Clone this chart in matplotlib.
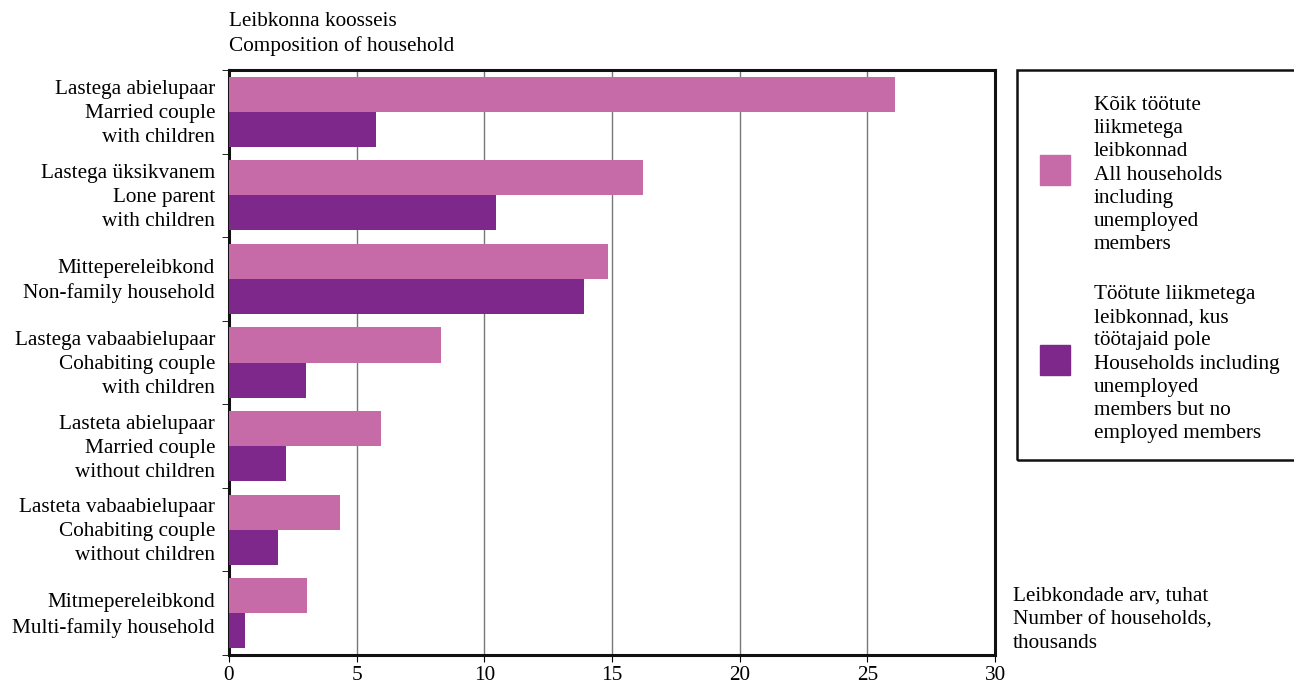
import matplotlib.pyplot as plt
import matplotlib.transforms as mtrans
from matplotlib.patches import Rectangle
import numpy as np

plt.rcParams['font.family'] = ['Liberation Serif', 'DejaVu Serif']

categories = [
    "Lastega abielupaar\nMarried couple\nwith children",
    "Lastega üksikvanem\nLone parent\nwith children",
    "Mittepereleibkond\nNon-family household",
    "Lastega vabaabielupaar\nCohabiting couple\nwith children",
    "Lasteta abielupaar\nMarried couple\nwithout children",
    "Lasteta vabaabielupaar\nCohabiting couple\nwithout children",
    "Mitmepereleibkond\nMulti-family household",
]
all_households = [26.1, 16.2, 14.85, 8.3, 5.95, 4.35, 3.05]
no_employed = [5.76, 10.46, 13.9, 3.0, 2.23, 1.92, 0.63]

label_all = ("Kõik töötute\nliikmetega\nleibkonnad\nAll households\n"
             "including\nunemployed\nmembers")
label_none = ("Töötute liikmetega\nleibkonnad, kus\ntöötajaid pole\n"
              "Households including\nunemployed\nmembers but no\nemployed members")

pink = "#C66AA8"
purple = "#7F288C"
fs = 15.3
ls = 1.36

fig = plt.figure(figsize=(12.94, 6.84), dpi=100)
ax = fig.add_axes([229/1294, 1-655/684, (995-229)/1294, (655-70)/684])

y = np.arange(len(categories))
h = 0.42
ax.barh(y - h/2, all_households, height=h, color=pink, zorder=3)
ax.barh(y + h/2, no_employed, height=h, color=purple, zorder=3)

ax.set_xlim(0, 30)
ax.set_ylim(len(categories) - 0.5, -0.5)
ax.set_xticks(range(0, 31, 5))
ax.tick_params(axis='x', labelsize=fs, direction='out', length=5, pad=3)
ax.set_yticks(y)
ax.set_yticklabels(categories, fontsize=fs, linespacing=ls)
ax.tick_params(axis='y', length=0, pad=10)
ax.set_yticks(np.arange(-0.5, len(categories)), minor=True)
ax.tick_params(axis='y', which='minor', length=5, direction='out')
shift = mtrans.ScaledTranslation(0, 3/100, fig.dpi_scale_trans)
for lab in ax.get_yticklabels():
    lab.set_transform(lab.get_transform() + shift)
ax.grid(axis='x', color='#777777', linewidth=1, zorder=1)
for s in ax.spines.values():
    s.set_linewidth(2.2)
    s.set_color('#111111')

fig.text(229/1294, 1-12/684, "Leibkonna koosseis\nComposition of household",
         fontsize=fs, va='top', ha='left', linespacing=ls)
fig.text(1013/1294, 1-587/684, "Leibkondade arv, tuhat\nNumber of households,\nthousands",
         fontsize=fs, va='top', ha='left', linespacing=1.33)

# legend box
fig.patches.append(Rectangle((1017/1294, 1-460/684), 290/1294, 390/684,
                             transform=fig.transFigure, fill=False,
                             edgecolor='#111111', linewidth=1.8))
fig.patches.append(Rectangle((1040/1294, 1-185/684), 30/1294, 30/684,
                             transform=fig.transFigure, color=pink))
fig.patches.append(Rectangle((1040/1294, 1-375/684), 30/1294, 30/684,
                             transform=fig.transFigure, color=purple))
fig.text(1094/1294, 1-96/684, label_all, fontsize=fs, va='top', ha='left', linespacing=1.3)
fig.text(1094/1294, 1-285/684, label_none, fontsize=fs, va='top', ha='left', linespacing=1.3)

fig.savefig("out.png", dpi=100)
